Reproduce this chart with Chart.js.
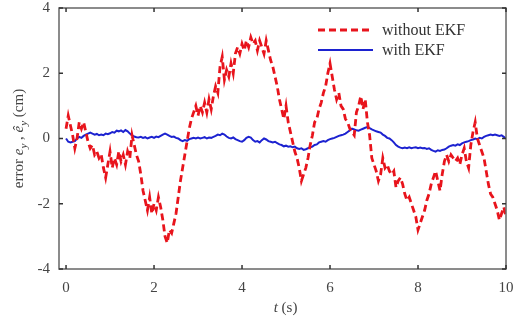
<!DOCTYPE html>
<html>
<head>
<meta charset="utf-8">
<script src="https://cdn.jsdelivr.net/npm/chart.js@4"></script>
<style>
  html, body { margin: 0; padding: 0; background: #fff; }
  #wrap { width: 515px; height: 320px; }
</style>
</head>
<body>
<div id="wrap"><canvas id="errchart" width="515" height="320"></canvas></div>
<script>
// sampling grid, 0.05 s from 0 to 10 s
const times = Array.from({ length: 201 }, (_, i) => +(i * 0.05).toFixed(2));

// error without EKF (cm)
const withoutEKF = [
  0.3, 0.7, 0.4, 0.1, -0.3, 0.0, 0.5, 0.3, 0.5, 0.2,
  -0.1, -0.3, -0.2, -0.5, -0.4, -0.6, -0.5, -0.9, -1.2, -0.8,
  -0.4, -0.9, -0.6, -0.8, -0.4, -0.7, -0.5, -0.8, -0.4, -0.6,
  0.1, -0.2, -0.5, -0.7, -1.1, -1.6, -1.9, -2.2, -1.8, -2.3,
  -2.0, -2.2, -1.8, -2.1, -2.5, -3.0, -3.2, -2.8, -2.9, -2.6,
  -2.3, -1.8, -1.3, -0.9, -0.5, -0.1, 0.3, 0.6, 0.8, 1.0,
  0.7, 1.0, 0.8, 1.1, 0.8, 1.2, 0.9, 1.3, 1.6, 1.4,
  2.2, 2.5, 1.8, 2.1, 1.9, 2.3, 2.0, 2.6, 2.8, 2.6,
  2.9, 2.7, 3.0, 2.8, 3.1, 2.9, 3.0, 2.7, 3.0, 2.8,
  2.6, 3.0, 2.7, 2.4, 2.2, 1.9, 1.6, 1.2, 0.9, 0.6,
  1.0, 0.5, 0.2, -0.1, -0.4, -0.6, -0.9, -1.3, -1.1, -0.9,
  -0.6, -0.2, 0.1, 0.5, 0.6, 0.9, 1.1, 1.4, 1.6, 2.0,
  2.3, 1.9, 1.5, 1.2, 1.4, 1.0, 0.9, 0.6, 0.5, 0.3,
  0.2, 0.1, 0.8, 1.0, 1.3, 0.9, 1.2, 0.5, 0.1, -0.6,
  -0.8, -1.0, -1.3, -1.1, -0.6, -0.9, -0.8, -1.0, -1.1, -1.0,
  -1.5, -1.3, -1.2, -1.4, -1.7, -1.9, -1.8, -2.0, -2.2, -2.4,
  -2.8, -2.6, -2.4, -2.2, -1.9, -1.7, -1.4, -1.2, -1.0, -1.3,
  -1.6, -1.1, -0.7, -0.5, -0.7, -0.5, -0.6, -0.7, -0.6, -0.8,
  -0.5, -0.3, -0.7, -0.9, -0.2, 0.2, 0.5, 0.0, -0.2, -0.4,
  -0.6, -1.0, -1.4, -1.7, -1.8, -2.0, -2.2, -2.5, -2.3, -2.1,
  -2.4
];

// error with EKF (cm)
const withEKF = [
  0.0, -0.1, -0.12, -0.1, -0.08, 0.0, 0.05, 0.02, 0.08, 0.12,
  0.15, 0.18, 0.15, 0.12, 0.14, 0.1, 0.12, 0.1, 0.15, 0.13,
  0.16, 0.2, 0.18, 0.24, 0.22, 0.25, 0.2, 0.26, 0.22, 0.15,
  0.1, 0.06, 0.04, 0.03, 0.05, 0.02, 0.04, 0.0, 0.03, 0.05,
  0.02, 0.06, 0.04, 0.08, 0.12, 0.15, 0.12, 0.08, 0.05, 0.06,
  0.02, 0.0, -0.05, -0.08, -0.05, -0.07, -0.02, 0.0, 0.02, 0.0,
  0.03, 0.0, 0.02, 0.04, 0.0, 0.03, 0.02, 0.05, 0.08, 0.12,
  0.1, 0.15, 0.12, 0.06, 0.02, 0.0, 0.03, -0.02, -0.05, -0.08,
  -0.1, -0.05, 0.02, 0.05, 0.03, -0.05, -0.1, -0.08, -0.12, -0.05,
  0.0, -0.03, -0.08, -0.1, -0.12, -0.1, -0.14, -0.18, -0.2, -0.24,
  -0.22, -0.25, -0.24, -0.27, -0.25, -0.3, -0.32, -0.3, -0.35, -0.33,
  -0.3, -0.27, -0.25, -0.2, -0.18, -0.12, -0.1, -0.08, -0.1, -0.05,
  -0.02, 0.0, 0.02, 0.05, 0.08, 0.1, 0.12, 0.15, 0.2, 0.25,
  0.3, 0.28, 0.25, 0.24, 0.27, 0.3, 0.33, 0.35, 0.32, 0.28,
  0.25, 0.22, 0.2, 0.18, 0.12, 0.08, 0.02, 0.0, -0.05, -0.12,
  -0.2, -0.25, -0.28, -0.3, -0.28, -0.3, -0.27, -0.3, -0.28, -0.27,
  -0.3, -0.28, -0.3, -0.29, -0.32, -0.3, -0.35, -0.38, -0.4, -0.36,
  -0.38, -0.35, -0.34, -0.3, -0.25, -0.22, -0.2, -0.22, -0.18, -0.2,
  -0.15, -0.12, -0.1, -0.08, -0.05, -0.03, 0.0, -0.02, 0.02, 0.0,
  0.05, 0.08, 0.1, 0.12, 0.1, 0.12, 0.1, 0.08, 0.1, 0.05,
  0.0
];

const xTicks = [0, 2, 4, 6, 8, 10];
const yTicks = [-4, -2, 0, 2, 4];
const seriesNames = ['without EKF', 'with EKF'];

const serif = '"Liberation Serif", "DejaVu Serif", serif';
const textColor = '#444';
const frameColor = '#666';

// box round the plot, with short inward ticks on all four sides
const framePlugin = {
  id: 'frame',
  afterDatasetsDraw(chart) {
    const { ctx, chartArea: a, scales } = chart;
    ctx.save();
    ctx.strokeStyle = frameColor;
    ctx.lineWidth = 1.5;
    ctx.strokeRect(a.left, a.top, a.right - a.left, a.bottom - a.top);
    ctx.strokeStyle = '#333';
    ctx.beginPath();
    xTicks.forEach(v => {
      const x = scales.x.getPixelForValue(v);
      ctx.moveTo(x, a.bottom); ctx.lineTo(x, a.bottom - 4);
      ctx.moveTo(x, a.top); ctx.lineTo(x, a.top + 4);
    });
    yTicks.forEach(v => {
      const y = scales.y.getPixelForValue(v);
      ctx.moveTo(a.left, y); ctx.lineTo(a.left + 4, y);
      ctx.moveTo(a.right, y); ctx.lineTo(a.right - 4, y);
    });
    ctx.stroke();
    ctx.restore();
  }
};

// legend inside the top right corner
const legendPlugin = {
  id: 'boxLegend',
  afterDatasetsDraw(chart) {
    const { ctx, chartArea: a } = chart;
    ctx.save();
    chart.data.datasets.forEach((ds, i) => {
      const y = a.top + 22 + i * 20;
      const x0 = a.right - 188;
      ctx.strokeStyle = ds.borderColor;
      ctx.lineWidth = ds.borderWidth;
      ctx.setLineDash(ds.borderDash || []);
      ctx.beginPath();
      ctx.moveTo(x0, y); ctx.lineTo(x0 + 55, y);
      ctx.stroke();
      ctx.setLineDash([]);
      ctx.fillStyle = '#333';
      ctx.font = '16px ' + serif;
      ctx.textBaseline = 'middle';
      ctx.fillText(ds.label, x0 + 64, y + 1);
    });
    ctx.restore();
  }
};

// axis titles with italic symbols and subscripts
const titlePlugin = {
  id: 'axisTitles',
  afterDraw(chart) {
    const { ctx, chartArea: a } = chart;
    ctx.save();
    ctx.fillStyle = textColor;
    ctx.textBaseline = 'alphabetic';

    // x title: t (s)
    const xt = [['t', 'italic 15px '], [' (s)', '15px ']];
    let w = 0;
    xt.forEach(p => { ctx.font = p[1] + serif; w += ctx.measureText(p[0]).width; });
    let x = (a.left + a.right) / 2 - w / 2 + 3;
    xt.forEach(p => {
      ctx.font = p[1] + serif;
      ctx.fillText(p[0], x, 312);
      x += ctx.measureText(p[0]).width;
    });

    // y title: error e_y , ê_y (cm)
    const yt = [
      ['error ', '15px ', 0], ['e', 'italic 15px ', 0], ['y', 'italic 11px ', 4],
      [' , ', '15px ', 0], ['ê', 'italic 15px ', 0], ['y', 'italic 11px ', 4],
      [' (cm)', '15px ', 0]
    ];
    w = 0;
    yt.forEach(p => { ctx.font = p[1] + serif; w += ctx.measureText(p[0]).width; });
    ctx.translate(23, (a.top + a.bottom) / 2);
    ctx.rotate(-Math.PI / 2);
    x = -w / 2;
    yt.forEach(p => {
      ctx.font = p[1] + serif;
      ctx.fillText(p[0], x, p[2]);
      x += ctx.measureText(p[0]).width;
    });
    ctx.restore();
  }
};

const ctx = document.getElementById('errchart').getContext('2d');
const errChart = new Chart(ctx, {
  type: 'line',
  data: {
    datasets: [{
      label: seriesNames[0],
      data: times.map((t, i) => ({ x: t, y: withoutEKF[i] })),
      borderColor: '#e8141c',
      borderWidth: 2.8,
      borderDash: [7, 4],
      pointRadius: 0,
      tension: 0
    }, {
      label: seriesNames[1],
      data: times.map((t, i) => ({ x: t, y: withEKF[i] })),
      borderColor: '#1c22d0',
      borderWidth: 2,
      pointRadius: 0,
      tension: 0
    }]
  },
  options: {
    responsive: false,
    animation: false,
    layout: { padding: { top: 8, right: 9, left: 0, bottom: 0 } },
    plugins: { legend: { display: false }, tooltip: { enabled: false } },
    scales: {
      x: {
        type: 'linear',
        min: -0.16,
        max: 10,
        afterBuildTicks: s => { s.ticks = xTicks.map(v => ({ value: v })); },
        afterFit: s => { s.height = 51; s.paddingLeft = 0; s.paddingRight = 0; },
        grid: { display: false, drawTicks: false },
        border: { display: false },
        ticks: { padding: 10, color: textColor, font: { family: serif, size: 15 }, maxRotation: 0 }
      },
      y: {
        min: -4,
        max: 4,
        afterBuildTicks: s => { s.ticks = yTicks.map(v => ({ value: v })); },
        afterFit: s => { s.width = 59; s.paddingTop = 0; s.paddingBottom = 0; },
        grid: { display: false, drawTicks: false },
        border: { display: false },
        ticks: { padding: 9, color: textColor, font: { family: serif, size: 15 } }
      }
    }
  },
  plugins: [framePlugin, legendPlugin, titlePlugin]
});
</script>
</body>
</html>
